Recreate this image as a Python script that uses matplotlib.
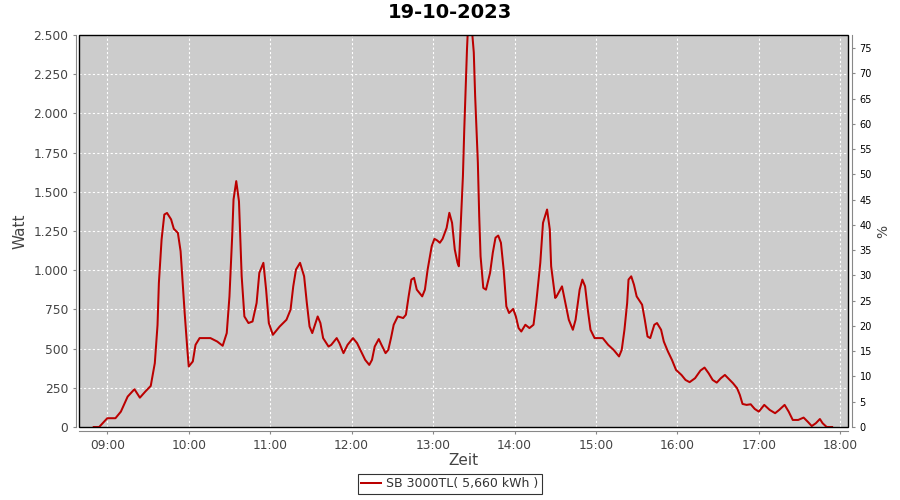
import matplotlib
matplotlib.use("Agg")
import matplotlib.pyplot as plt
from matplotlib.patches import Rectangle
from matplotlib.ticker import FuncFormatter

# readings of the inverter (time, W)
zeit = ["08:50", "08:54", "09:00", "09:06", "09:10", "09:15", "09:20", "09:24", "09:28", "09:32",
        "09:35", "09:37", "09:38", "09:40", "09:42", "09:44", "09:47", "09:49", "09:52", "09:54",
        "09:57", "09:59", "10:00", "10:03", "10:05", "10:08", "10:16", "10:21", "10:25", "10:28",
        "10:30", "10:32", "10:33", "10:35", "10:37", "10:38", "10:39", "10:41", "10:44", "10:47",
        "10:50", "10:52", "10:55", "10:57", "10:59", "11:02", "11:07", "11:12", "11:15", "11:17",
        "11:19", "11:22", "11:25", "11:27", "11:29", "11:31", "11:33", "11:35", "11:37", "11:39",
        "11:43", "11:45", "11:49", "11:51", "11:54", "11:57", "12:01", "12:04", "12:07", "12:10",
        "12:13", "12:15", "12:17", "12:20", "12:22", "12:25", "12:27", "12:29", "12:31", "12:34",
        "12:38", "12:40", "12:42", "12:44", "12:46", "12:48", "12:52", "12:54", "12:56", "12:59",
        "13:01", "13:03", "13:05", "13:07", "13:10", "13:12", "13:14", "13:16", "13:18", "13:19",
        "13:20", "13:22", "13:23", "13:24", "13:25", "13:26", "13:28", "13:30", "13:31", "13:33",
        "13:34", "13:35", "13:37", "13:39", "13:42", "13:44", "13:46", "13:48", "13:50", "13:52",
        "13:54", "13:56", "13:59", "14:01", "14:03", "14:05", "14:08", "14:11", "14:14", "14:16",
        "14:19", "14:21", "14:24", "14:26", "14:27", "14:30", "14:31", "14:35", "14:37", "14:40",
        "14:43", "14:45", "14:48", "14:50", "14:52", "14:54", "14:56", "14:59", "15:05", "15:09",
        "15:13", "15:17", "15:19", "15:21", "15:23", "15:24", "15:26", "15:28", "15:30", "15:34",
        "15:36", "15:38", "15:40", "15:43", "15:45", "15:48", "15:50", "15:53", "15:56", "15:59",
        "16:03", "16:06", "16:09", "16:13", "16:17", "16:20", "16:23", "16:26", "16:29", "16:32",
        "16:35", "16:38", "16:41", "16:44", "16:46", "16:48", "16:51", "16:54", "16:57", "17:00",
        "17:04", "17:08", "17:12", "17:15", "17:19", "17:22", "17:25", "17:29", "17:33", "17:36",
        "17:39", "17:42", "17:45", "17:47", "17:50", "17:54"]
watt = [0, 0, 56, 56, 98, 194, 241, 187, 226, 262,
        407, 650, 919, 1196, 1355, 1365, 1324, 1264, 1238, 1121,
        727, 492, 386, 418, 524, 567, 567, 545, 518, 599,
        833, 1217, 1451, 1568, 1440, 1196, 961, 705, 663, 673,
        791, 983, 1047, 876, 663, 588, 641, 684, 748, 897,
        1004, 1047, 961, 791, 641, 599, 652, 705, 663, 567,
        513, 524, 567, 535, 471, 524, 567, 535, 482, 428,
        396, 428, 513, 561, 524, 471, 492, 567, 652, 705,
        695, 716, 833, 940, 951, 876, 833, 876, 1004, 1153,
        1200, 1190, 1175, 1200, 1270, 1366, 1302, 1132, 1047, 1025,
        1217, 1600, 1900, 2150, 2410, 2600, 2600, 2389, 2112, 1686,
        1345, 1089, 887, 876, 983, 1111, 1207, 1221, 1175, 1004,
        769, 727, 753, 705, 631, 609, 652, 631, 652, 791,
        1047, 1302, 1387, 1260, 1025, 823, 833, 897, 812, 684,
        620, 684, 876, 940, 897, 748, 620, 567, 567, 524,
        492, 450, 492, 620, 791, 940, 961, 908, 833, 780,
        684, 577, 567, 652, 663, 620, 545, 482, 428, 364,
        332, 300, 286, 311, 360, 379, 343, 300, 283, 311,
        332, 305, 279, 247, 205, 147, 141, 145, 115, 98,
        141, 109, 88, 109, 141, 98, 45, 45, 60, 34,
        6, 24, 51, 24, 0, 0]

titel = "19-10-2023"
legende = "SB 3000TL( 5,660 kWh )"
stunden = list(range(9, 19))
stunden_labels = ["%02d:00" % h for h in stunden]
watt_ticks = list(range(0, 2501, 250))
prozent_ticks = list(range(0, 76, 5))

stunde = [int(t[:2]) + int(t[3:]) / 60 for t in zeit]

fig = plt.figure(figsize=(9, 5), dpi=100)
ax = fig.add_axes([79 / 900, 73 / 500, 769 / 900, 392 / 500])
ax.set_facecolor("#cccccc")

ax.plot(stunde, watt, color="#bb0000", lw=1.45, label=legende, zorder=3)

ax.set_xlim(8 + 39.15 / 60, 18 + 5.7 / 60)
ax.set_ylim(0, 2500)
ax.set_xticks(stunden)
ax.set_xticklabels(stunden_labels)
ax.set_yticks(watt_ticks)
ax.yaxis.set_major_formatter(FuncFormatter(lambda v, p: f"{v:,.0f}".replace(",", ".")))
ax.grid(color="white", linestyle=(0, (2, 2)), linewidth=0.8)
ax.set_axisbelow(True)

grau = "#888888"
for s in ["top", "right"]:
    ax.spines[s].set_visible(False)
ax.spines["left"].set_position(("outward", 2.2))
ax.spines["bottom"].set_position(("outward", 2.9))
ax.spines["left"].set_color(grau)
ax.spines["bottom"].set_color(grau)
ax.tick_params(colors=grau, labelcolor="#444444", labelsize=8.8, length=2)

fig.suptitle(titel, x=0.5, y=0.974, va="center", fontsize=14, fontweight="bold")
ax.set_xlabel("Zeit", fontsize=11, color="#444444")
ax.xaxis.set_label_coords(0.5, -0.066)
ax.set_ylabel("Watt", fontsize=11, color="#444444")
ax.yaxis.set_label_coords(-0.067, 0.5)

ax2 = ax.twinx()
ax2.set_ylim(0, 77.6)
ax2.set_yticks(prozent_ticks)
for s in ["top", "left", "bottom"]:
    ax2.spines[s].set_visible(False)
ax2.spines["right"].set_position(("outward", 2.9))
ax2.spines["right"].set_color(grau)
ax2.tick_params(colors=grau, labelcolor="black", labelsize=7, length=2)
ax2.set_ylabel("%", fontsize=10, color="#444444")
ax2.yaxis.set_label_coords(1.037, 0.5)

ax2.add_patch(Rectangle((0, 0), 1, 1, transform=ax.transAxes, fill=False,
                        edgecolor="black", lw=1, clip_on=False, zorder=5))

leg = fig.legend(loc="lower center", bbox_to_anchor=(0.5, 0.004), fontsize=9, frameon=True,
                 fancybox=False, handlelength=1.6, handletextpad=0.4, borderpad=0.3,
                 borderaxespad=0.3)
leg.get_frame().set_edgecolor("black")
leg.get_frame().set_linewidth(0.8)
for t in leg.get_texts():
    t.set_color("#333333")

fig.savefig("out.png", dpi=100)
